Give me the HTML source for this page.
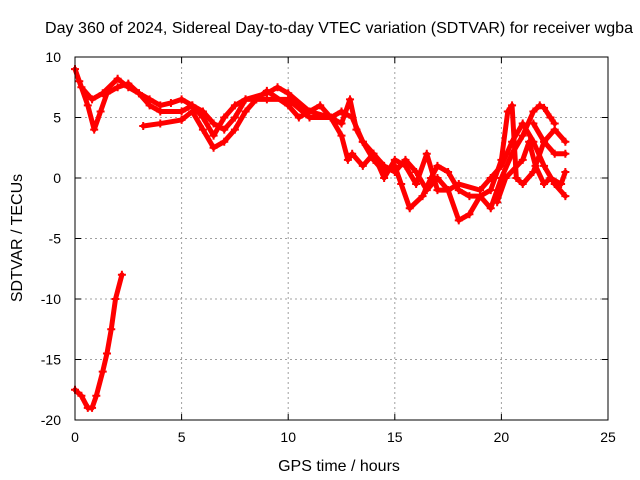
<!DOCTYPE html>
<html><head><meta charset="utf-8"><style>
body{margin:0;background:#fff}
svg{display:block;font-family:"Liberation Sans",sans-serif}
</style></head><body>
<svg id="c" width="640" height="480">
<text x="339" y="33" text-anchor="middle" font-size="16" textLength="588">Day 360 of 2024, Sidereal Day-to-day VTEC variation (SDTVAR) for receiver wgba</text>
<text x="339" y="471" text-anchor="middle" font-size="16">GPS time / hours</text>
<text transform="translate(22,238) rotate(-90)" text-anchor="middle" font-size="16">SDTVAR / TECUs</text>
<g id="grid"></g><g id="marks"></g>
<rect x="75" y="57" width="533" height="363" fill="none" stroke="#000"/>
</svg>
<script>
const xTicks=[0,5,10,15,20,25];
const yTicks=[10,5,0,-5,-10,-15,-20];
const traceA=[[0,9],[0.3,7.5],[0.8,6.5],[1.3,7],[2,8.2],[2.5,7.5],[3,7],[3.5,6],[4,5.5],[5,5.5],[5.5,6],[6,5.5],[6.5,4.5],[7,4],[7.5,5],[8,6.5],[9,7],[9.5,7.5],[10,7],[11,5.5],[12,5],[12.5,5.5],[13,5],[13.5,3],[14,2],[14.5,1],[15,0.5],[15.5,1.5],[16,0.5],[16.5,-1],[17,0],[17.5,-1],[18,-0.5],[19,-1],[19.5,0],[20,1],[20.5,3],[21,4.5],[21.5,3],[22,1],[22.5,-0.5],[23,-1.5]];
const traceB=[[0.2,8],[0.6,6],[0.9,4],[1.2,5.5],[1.5,7],[2,7.5],[2.5,7.8],[3,7],[3.5,6.5],[4,6],[4.5,6.2],[5,6.5],[5.5,6],[6,5],[6.5,3.5],[7,5],[7.5,6],[8,6.5],[8.5,6.5],[9,7.2],[10,6],[10.5,5],[11,5.5],[11.5,6],[12,5],[12.5,4.5],[12.9,6.5],[13.2,4],[13.5,3],[14,1.5],[14.5,0.5],[15,1],[15.3,-0.5],[15.7,-2.5],[16.3,-1.5],[16.7,0],[17,1],[17.5,0.5],[18,-1],[18.5,-1.5],[19,-1.5],[19.5,-2.5],[20,0],[20.5,2],[21,3.5],[21.5,5.5],[21.8,6],[22,5.8],[22.3,5],[22.5,4.5]];
const traceC=[[3.2,4.3],[4,4.5],[5,4.8],[5.5,5.5],[6,4],[6.5,2.5],[7,3],[7.5,4],[8,5.5],[8.5,6.5],[9,6.5],[10,6.5],[11,5],[12,5],[12.5,3.5],[12.8,1.5],[13,2],[13.5,1],[14,2],[14.5,0],[15,1.5],[15.5,1],[16,-0.5],[16.5,2],[17,-1],[17.5,-1],[18,-3.5],[18.5,-3],[19,-1.5],[19.5,-1],[20,1.5],[20.3,5.5],[20.5,6],[20.7,0],[21,-0.5],[21.5,0.5],[22,3],[22.5,4],[23,3]];
const traceD=[[19.8,-2],[20.2,0],[21,1.5],[21.3,3],[21.6,1],[22,-0.5],[22.3,0],[22.8,-0.5],[23,0.5]];
const traceE=[[21.5,4.5],[22,3],[22.5,2],[23,2]];
const traceF=[[0,-17.5],[0.3,-18],[0.6,-19],[0.8,-19],[1,-18],[1.3,-16],[1.5,-14.5],[1.7,-12.5],[1.9,-10],[2.2,-8]];
const series=[traceA,traceB,traceC,traceD,traceE,traceF];
const NS="http://www.w3.org/2000/svg";
const X0=75,X1=608,Y0=420,Y1=57;
const xs=v=>X0+(v-0)/25*(X1-X0);
const ys=v=>Y0-(v+20)/30*(Y0-Y1);
const grid=document.getElementById('grid'),marks=document.getElementById('marks');
function mk(t,a,p){const e=document.createElementNS(NS,t);for(const k in a)e.setAttribute(k,a[k]);p.appendChild(e);return e;}
xTicks.forEach(v=>{const x=xs(v);
 if(v>0&&v<25){const g=mk('line',{x1:x,x2:x,y1:Y1,y2:Y0,stroke:'#a0a0a0','stroke-dasharray':'2,3'},grid);
 
 }
 mk('line',{x1:x,x2:x,y1:Y0,y2:Y0-6,stroke:'#000'},grid);mk('line',{x1:x,x2:x,y1:Y1,y2:Y1+6,stroke:'#000'},grid);
 const t=mk('text',{x:x,y:442,'text-anchor':'middle','font-size':14},grid);t.textContent=v;
 
 });
yTicks.forEach(v=>{const y=ys(v);
 if(v>-20&&v<10){const g=mk('line',{x1:X0,x2:X1,y1:y,y2:y,stroke:'#a0a0a0','stroke-dasharray':'2,3'},grid);
 
 }
 mk('line',{x1:X0,x2:X0+6,y1:y,y2:y,stroke:'#000'},grid);mk('line',{x1:X1,x2:X1-6,y1:y,y2:y,stroke:'#000'},grid);
 const t=mk('text',{x:61,y:y+5,'text-anchor':'end','font-size':14},grid);t.textContent=v;
 
 });
series.forEach((s,i)=>{
 const pl=mk('polyline',{points:s.map(p=>xs(p[0])+','+ys(p[1])).join(' '),fill:'none',stroke:'#ff0000','stroke-width':5,'stroke-linejoin':'round','stroke-linecap':'round'},marks);
 
 
 s.forEach(p=>{const x=xs(p[0]),y=ys(p[1]);
  const m=mk('path',{d:`M${x-4},${y}H${x+4}M${x},${y-4}V${y+4}`,stroke:'#ff0000','stroke-width':2},marks);
  
  });
});
</script>
</body></html>
